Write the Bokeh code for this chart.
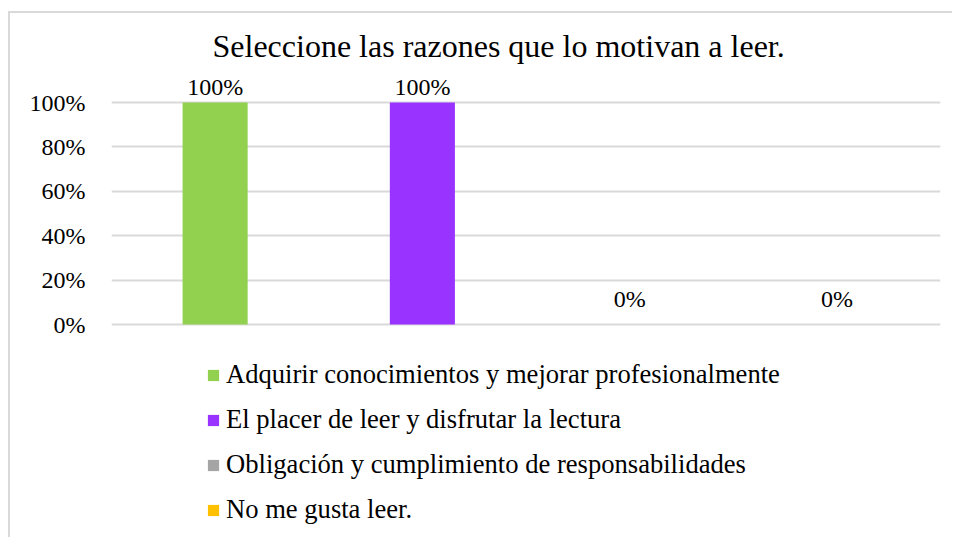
from bokeh.plotting import figure
from bokeh.models import ColumnDataSource, FixedTicker, NumeralTickFormatter, Title, Range1d
from bokeh.embed import file_html
from bokeh.resources import INLINE

categories = ["Adquirir conocimientos y mejorar profesionalmente",
              "El placer de leer y disfrutar la lectura",
              "Obligación y cumplimiento de responsabilidades",
              "No me gusta leer."]
values = [1.0, 1.0, 0.0, 0.0]
value_labels = ["100%", "100%", "0%", "0%"]
colors = ["#92d050", "#9933ff", "#a5a5a5", "#ffc000"]
y_ticks = [0, 0.2, 0.4, 0.6, 0.8, 1.0]
title_text = "Seleccione las razones que lo motivan a leer."

FONT = "'Liberation Serif', 'Times New Roman', serif"

# layout (pixels inside the figure)
W, H = 944, 526
FRAME_L, FRAME_R = 101, 930
FRAME_T, FRAME_B = 58, H - 1
ZERO_PX, FULL_PX = 311, 89
scale = ZERO_PX - FULL_PX
y_end = 1 + (FULL_PX - FRAME_T) / scale
y_start = -(FRAME_B - ZERO_PX) / scale

offsets = [-16 if v > 0 else -26 for v in values]
src = ColumnDataSource(dict(cat=categories, val=values, lab=value_labels,
                            col=colors, off=offsets))

p = figure(x_range=categories, y_range=Range1d(y_start, y_end), width=W, height=H,
           output_backend="svg", toolbar_location=None,
           min_border_left=FRAME_L, min_border_right=W - FRAME_R,
           min_border_top=FRAME_T, min_border_bottom=H - FRAME_B)
p.title = None
p.add_layout(Title(text=title_text, text_font=FONT, text_font_size="32px",
                   text_font_style="normal", text_color="#000000",
                   align="left", offset=101, standoff=15), "above")

p.styles = {"border-left": "2px solid #d9d9d9", "border-top": "2px solid #d9d9d9",
            "margin-top": "11px", "margin-left": "8px"}

p.outline_line_color = None
p.background_fill_color = "white"
p.border_fill_color = "white"

r = p.vbar(x="cat", top="val", width=0.314, fill_color="col", line_color=None,
           source=src, legend_field="cat")

p.text(x="cat", y="val", text="lab", source=src, text_align="center",
       text_baseline="alphabetic", y_offset="off",
       text_font={"value": FONT}, text_font_size="24px", text_color="#000000")

p.xaxis.visible = False
p.xgrid.visible = False
p.ygrid.grid_line_color = "#d9d9d9"
p.ygrid.grid_line_width = 2
p.yaxis.ticker = FixedTicker(ticks=y_ticks)
p.yaxis.formatter = NumeralTickFormatter(format="0%")
p.yaxis.axis_line_color = None
p.yaxis.major_tick_line_color = None
p.yaxis.minor_tick_line_color = None
p.yaxis.major_tick_out = 0
p.yaxis.major_tick_in = 0
p.yaxis.major_label_standoff = 26
p.yaxis.major_label_text_font = FONT
p.yaxis.major_label_text_font_size = "24px"
p.yaxis.major_label_text_color = "#000000"

leg = p.legend[0]
leg.location = (95, 13)
leg.orientation = "vertical"
leg.border_line_color = None
leg.background_fill_alpha = 0
leg.padding = 0
leg.margin = 0
leg.spacing = 14
leg.glyph_width = 14
leg.glyph_height = 14
leg.label_standoff = 6
leg.label_text_font = FONT
leg.label_text_font_size = "26.6px"
leg.label_text_color = "#000000"
leg.label_height = 24

open("out.html", "w").write(file_html(p, INLINE))
